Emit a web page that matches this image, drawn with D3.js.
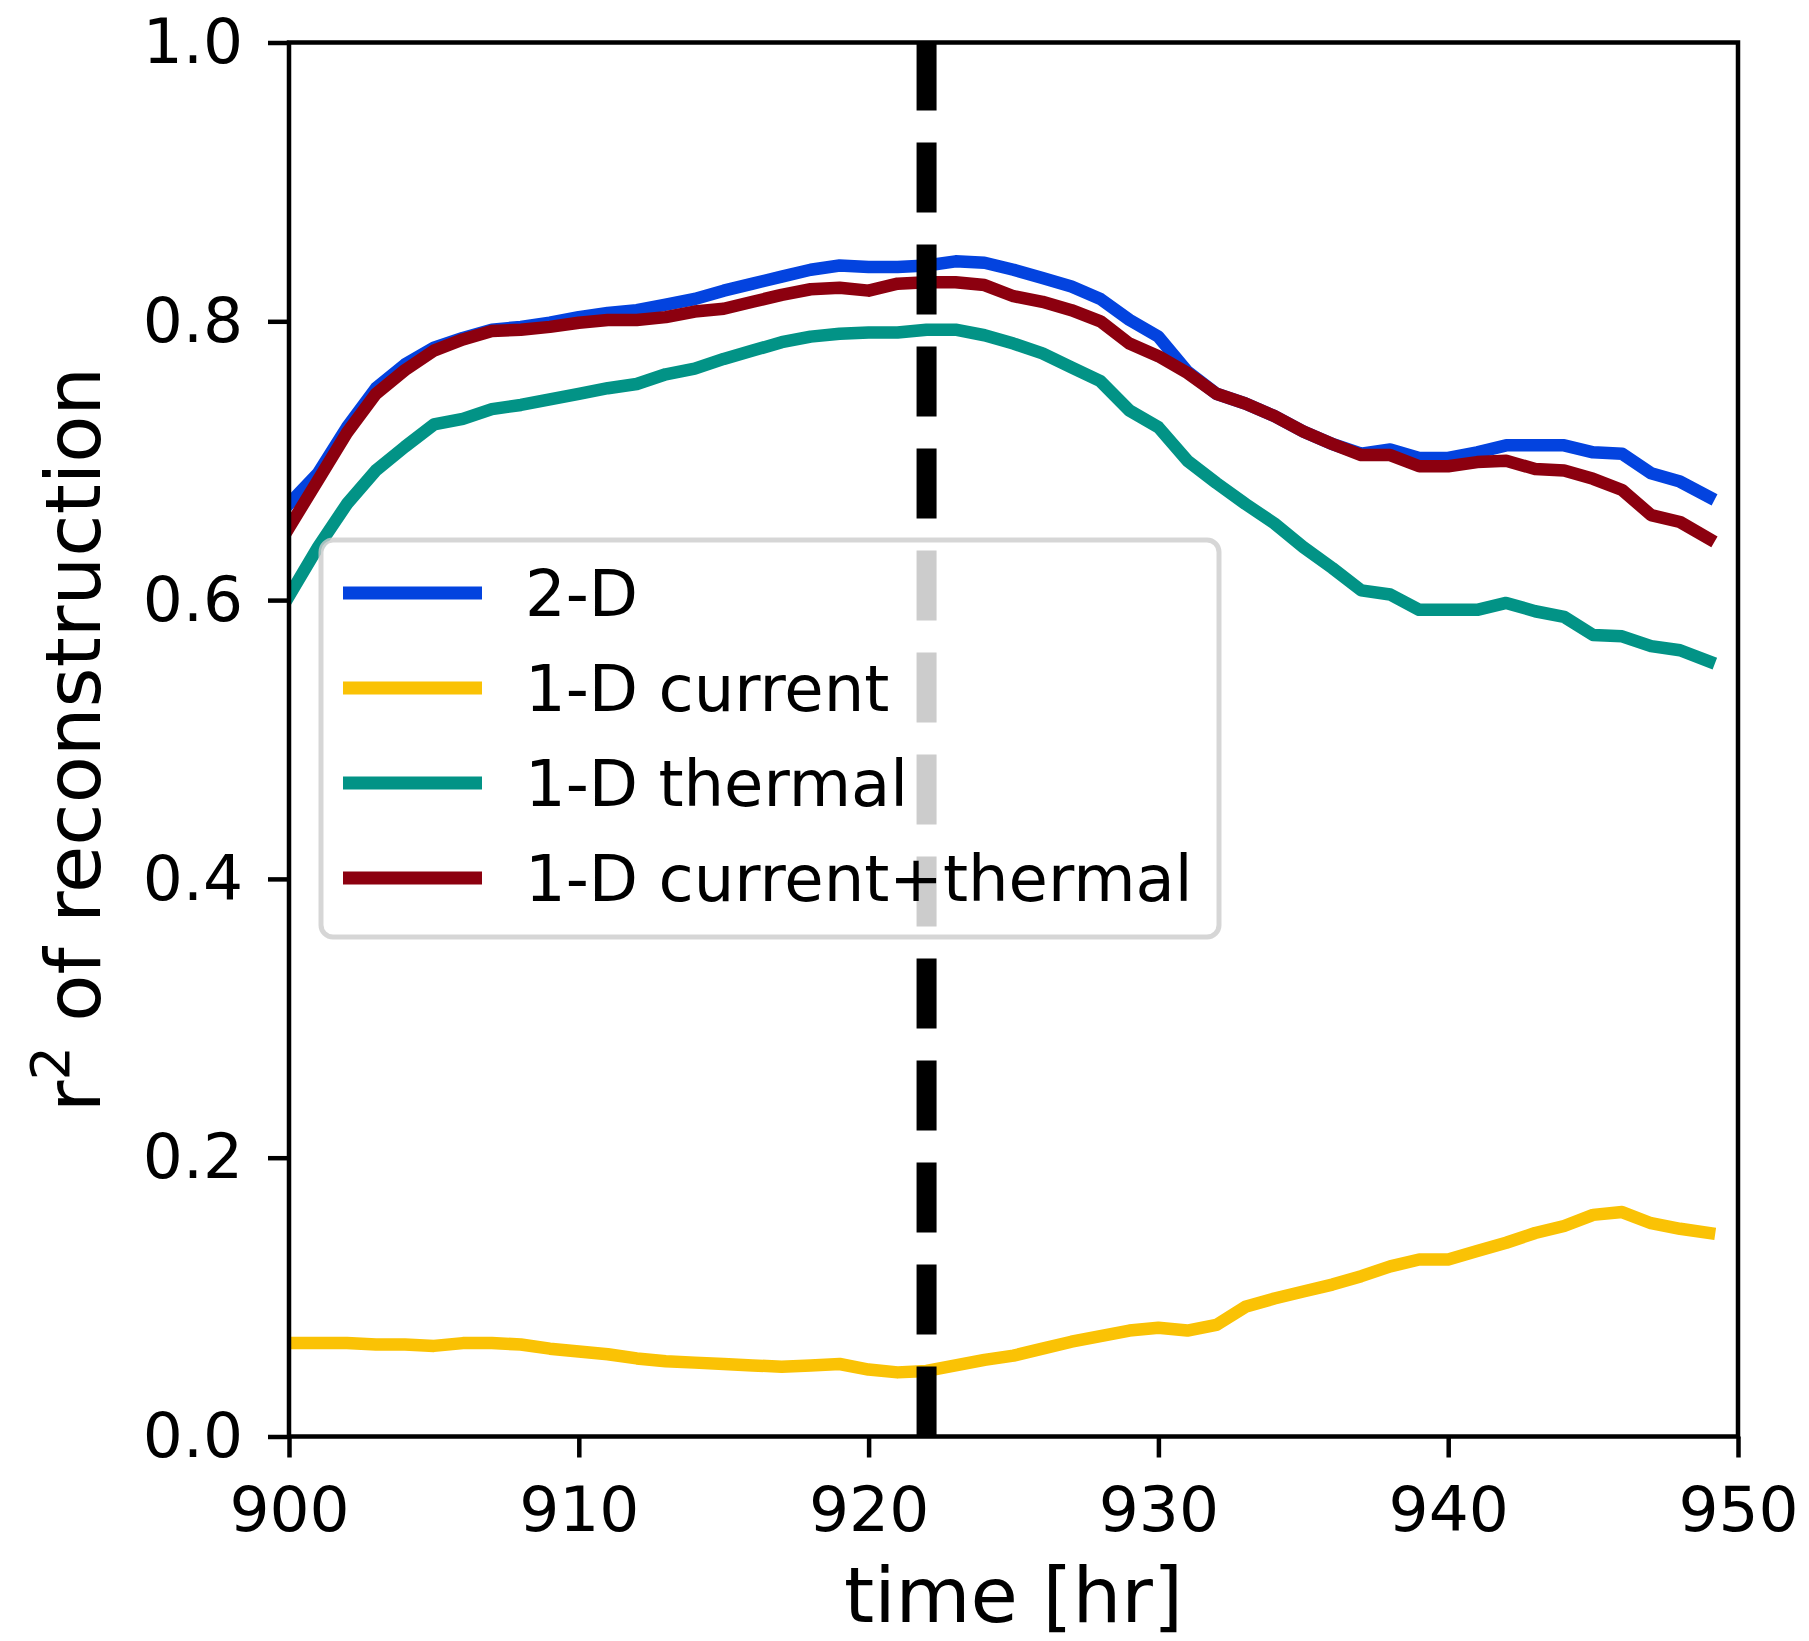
<!DOCTYPE html>
<html>
<head>
<meta charset="utf-8">
<script src="https://cdn.jsdelivr.net/npm/d3@7"></script>
<style>
  html, body { margin: 0; padding: 0; background: #ffffff; }
  svg { display: block; font-family: "DejaVu Sans", sans-serif; }
</style>
</head>
<body>
<svg id="chart" width="1809" height="1641"></svg>
<script>
// Hourly time stamps [hr]
const hours = [900, 901, 902, 903, 904, 905, 906, 907, 908, 909,
               910, 911, 912, 913, 914, 915, 916, 917, 918, 919,
               920, 921, 922, 923, 924, 925, 926, 927, 928, 929,
               930, 931, 932, 933, 934, 935, 936, 937, 938, 939,
               940, 941, 942, 943, 944, 945, 946, 947, 948, 949];

// r^2 of reconstruction for each model
const r2_2D = [0.669, 0.691, 0.724, 0.752, 0.769, 0.781, 0.788, 0.794, 0.796, 0.799,
               0.803, 0.806, 0.808, 0.812, 0.816, 0.822, 0.827, 0.832, 0.837, 0.840,
               0.839, 0.839, 0.840, 0.843, 0.842, 0.837, 0.831, 0.825, 0.816, 0.801,
               0.789, 0.764, 0.748, 0.741, 0.732, 0.721, 0.712, 0.705, 0.708, 0.702,
               0.702, 0.706, 0.711, 0.711, 0.711, 0.706, 0.705, 0.691, 0.685, 0.674];

const r2_1Dcurrent = [0.067, 0.067, 0.067, 0.066, 0.066, 0.065, 0.067, 0.067, 0.066, 0.063,
                      0.061, 0.059, 0.056, 0.054, 0.053, 0.052, 0.051, 0.050, 0.051, 0.052,
                      0.048, 0.046, 0.047, 0.051, 0.055, 0.058, 0.063, 0.068, 0.072, 0.076,
                      0.078, 0.076, 0.080, 0.093, 0.099, 0.104, 0.109, 0.115, 0.122, 0.127,
                      0.127, 0.133, 0.139, 0.146, 0.151, 0.159, 0.161, 0.153, 0.149, 0.146];

const r2_1Dthermal = [0.603, 0.638, 0.669, 0.693, 0.710, 0.726, 0.730, 0.737, 0.740, 0.744,
                      0.748, 0.752, 0.755, 0.762, 0.766, 0.773, 0.779, 0.785, 0.789, 0.791,
                      0.792, 0.792, 0.794, 0.794, 0.790, 0.784, 0.777, 0.767, 0.757, 0.736,
                      0.724, 0.700, 0.684, 0.669, 0.655, 0.638, 0.623, 0.607, 0.604, 0.593,
                      0.593, 0.593, 0.598, 0.592, 0.588, 0.575, 0.574, 0.567, 0.564, 0.556];

const r2_1Dboth = [0.652, 0.686, 0.720, 0.748, 0.765, 0.779, 0.787, 0.793, 0.794, 0.796,
                   0.799, 0.801, 0.801, 0.803, 0.807, 0.809, 0.814, 0.819, 0.823, 0.824,
                   0.822, 0.827, 0.828, 0.828, 0.826, 0.818, 0.814, 0.808, 0.800, 0.784,
                   0.775, 0.763, 0.748, 0.741, 0.732, 0.721, 0.712, 0.704, 0.704, 0.696,
                   0.696, 0.699, 0.700, 0.694, 0.693, 0.687, 0.679, 0.661, 0.656, 0.644];

const seriesNames  = ["2-D", "1-D current", "1-D thermal", "1-D current+thermal"];
const seriesColors = ["#0343df", "#fac205", "#029386", "#8c000f"];
const seriesValues = [r2_2D, r2_1Dcurrent, r2_1Dthermal, r2_1Dboth];

// Marked event time
const eventTime = 922;

const xTicks = [900, 910, 920, 930, 940, 950];
const yTicks = [0.0, 0.2, 0.4, 0.6, 0.8, 1.0];

// Layout
const plot = { left: 289, right: 1738, top: 42.5, bottom: 1436.5 };
const lineWidth = 12.5;
const tickLen = 21;
const spineWidth = 4.5;
const tickFont = 63;
const labelFont = 77;
const legendFont = 64;

const svg = d3.select("#chart");
svg.append("rect").attr("width", 1809).attr("height", 1641).attr("fill", "#ffffff");

const x = d3.scaleLinear().domain([900, 950]).range([plot.left, plot.right]);
const y = d3.scaleLinear().domain([0, 1]).range([plot.bottom, plot.top]);

svg.append("clipPath").attr("id", "plotArea")
  .append("rect")
  .attr("x", plot.left).attr("y", plot.top)
  .attr("width", plot.right - plot.left).attr("height", plot.bottom - plot.top);

const linesG = svg.append("g").attr("clip-path", "url(#plotArea)");

const line = d3.line()
  .x((d, i) => x(hours[i]))
  .y(d => y(d));

seriesValues.forEach((vals, k) => {
  linesG.append("path")
    .datum(vals)
    .attr("d", line)
    .attr("fill", "none")
    .attr("stroke", seriesColors[k])
    .attr("stroke-width", lineWidth)
    .attr("stroke-linejoin", "round")
    .attr("stroke-linecap", "square");
});

// Vertical dashed marker, drawn bottom to top
linesG.append("line")
  .attr("x1", x(eventTime)).attr("x2", x(eventTime))
  .attr("y1", y(0)).attr("y2", y(1))
  .attr("stroke", "#000000")
  .attr("stroke-width", 20)
  .attr("stroke-dasharray", "70 32")
  .attr("stroke-linecap", "butt");

// Axes
const xAxis = d3.axisBottom(x).tickValues(xTicks).tickFormat(d3.format("d"))
  .tickSizeInner(tickLen).tickSizeOuter(0).tickPadding(29);
const yAxis = d3.axisLeft(y).tickValues(yTicks).tickFormat(d3.format(".1f"))
  .tickSizeInner(tickLen).tickSizeOuter(0).tickPadding(25);

const gx = svg.append("g").attr("transform", `translate(0,${plot.bottom})`).call(xAxis);
const gy = svg.append("g").attr("transform", `translate(${plot.left},0)`).call(yAxis);

[gx, gy].forEach(g => {
  g.select(".domain").remove();
  g.selectAll(".tick line").attr("stroke", "#000").attr("stroke-width", spineWidth);
  g.selectAll(".tick text")
    .attr("fill", "#000")
    .style("font-family", "'DejaVu Sans', sans-serif")
    .style("font-size", tickFont + "px");
});

// Spines (full frame)
svg.append("rect")
  .attr("x", plot.left).attr("y", plot.top)
  .attr("width", plot.right - plot.left).attr("height", plot.bottom - plot.top)
  .attr("fill", "none").attr("stroke", "#000").attr("stroke-width", spineWidth)
  .attr("stroke-linejoin", "miter");

// Axis labels
svg.append("text")
  .attr("x", (plot.left + plot.right) / 2).attr("y", 1622)
  .attr("text-anchor", "middle")
  .style("font-size", labelFont + "px")
  .attr("fill", "#000")
  .text("time [hr]");

const yl = svg.append("text")
  .attr("transform", `translate(100,${(plot.top + plot.bottom) / 2}) rotate(-90)`)
  .attr("text-anchor", "middle")
  .style("font-size", labelFont + "px")
  .attr("fill", "#000");
yl.append("tspan").text("r");
yl.append("tspan").attr("dy", -31).style("font-size", (labelFont * 0.7) + "px").text("2");
yl.append("tspan").attr("dy", 31).text(" of reconstruction");

// Legend
const legend = { x: 321, y: 540, w: 898, h: 397, rowY0: 593, rowStep: 95,
                 handleX0: 343, handleX1: 482, textX: 525 };
const lg = svg.append("g");
lg.append("rect")
  .attr("x", legend.x).attr("y", legend.y)
  .attr("width", legend.w).attr("height", legend.h)
  .attr("rx", 12).attr("ry", 12)
  .attr("fill", "#ffffff").attr("fill-opacity", 0.8)
  .attr("stroke", "#cccccc").attr("stroke-opacity", 0.8)
  .attr("stroke-width", 5);

seriesNames.forEach((name, k) => {
  const yy = legend.rowY0 + k * legend.rowStep;
  lg.append("line")
    .attr("x1", legend.handleX0).attr("x2", legend.handleX1)
    .attr("y1", yy).attr("y2", yy)
    .attr("stroke", seriesColors[k]).attr("stroke-width", lineWidth + 0.5)
    .attr("stroke-linecap", "butt");
  lg.append("text")
    .attr("x", legend.textX).attr("y", yy)
    .attr("dy", "0.36em")
    .style("font-size", legendFont + "px")
    .attr("fill", "#000")
    .text(name);
});
</script>
</body>
</html>
